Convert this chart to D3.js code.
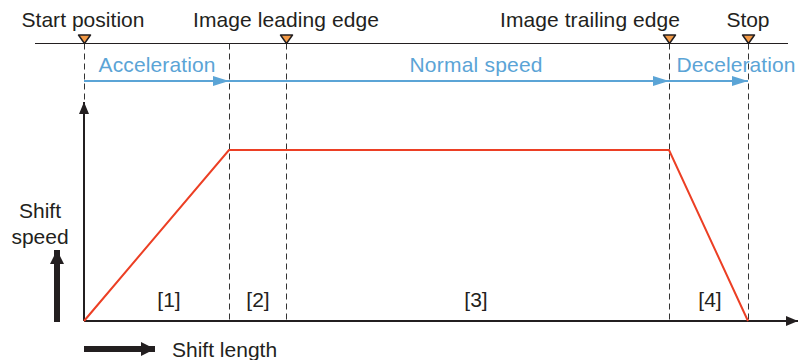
<!DOCTYPE html>
<html lang="en">
<head>
<meta charset="utf-8">
<title>Shift speed profile</title>
<script src="https://d3js.org/d3.v7.min.js"></script>
<style>
  body { margin: 0; background: #fff; }
  svg text { font-family: "Liberation Sans", Arial, sans-serif; }
</style>
</head>
<body>
<div id="chart"></div>
<script>
// positions along the shift length (arbitrary units)
var markers = ['Start position', 'Image leading edge', 'Image trailing edge', 'Stop'];
var markerPos = [0, 202, 585, 664];
var phaseBounds = [0, 145, 585, 664];          // accel end, decel start, stop
var phaseNames = ['Acceleration', 'Normal speed', 'Deceleration'];
var regionLabels = ['[1]', '[2]', '[3]', '[4]'];
var speedX = [0, 145, 585, 664];
var speedY = [0, 1, 1, 0];

var width = 798, height = 360;
var x = d3.scaleLinear().domain([0, 714]).range([84, 798]);
var y = d3.scaleLinear().domain([0, 1]).range([321, 150]);
var ink = '#231f20';

var svg = d3.select('#chart').append('svg')
  .attr('width', width).attr('height', height);

var defs = svg.append('defs');
defs.append('marker').attr('id', 'blueHead')
  .attr('viewBox', '0 0 16 10').attr('refX', 16).attr('refY', 5)
  .attr('markerWidth', 16).attr('markerHeight', 10)
  .attr('markerUnits', 'userSpaceOnUse').attr('orient', 'auto')
  .append('path').attr('d', 'M0,0L16,5L0,10Z').attr('fill', '#5ba4d6');
defs.append('marker').attr('id', 'axHead')
  .attr('viewBox', '0 0 12 10').attr('refX', 12).attr('refY', 5)
  .attr('markerWidth', 12).attr('markerHeight', 10)
  .attr('markerUnits', 'userSpaceOnUse').attr('orient', 'auto')
  .append('path').attr('d', 'M0,0L12,5L0,10Z').attr('fill', ink);
defs.append('marker').attr('id', 'bigHead')
  .attr('viewBox', '0 0 14 14').attr('refX', 14).attr('refY', 7)
  .attr('markerWidth', 14).attr('markerHeight', 14)
  .attr('markerUnits', 'userSpaceOnUse').attr('orient', 'auto')
  .append('path').attr('d', 'M0,0L14,7L0,14Z').attr('fill', ink);

// top reference line
var topY = 43.5;
svg.append('line').attr('x1', 35).attr('x2', 788)
  .attr('y1', topY).attr('y2', topY)
  .attr('stroke', ink).attr('stroke-width', 1);

// dashed guide lines
var guides = Array.from(new Set(markerPos.concat(phaseBounds)));
svg.selectAll('.guide').data(guides).enter().append('line')
  .attr('class', 'guide')
  .attr('x1', d => Math.round(x(d)) + 0.5).attr('x2', d => Math.round(x(d)) + 0.5)
  .attr('y1', topY).attr('y2', y(0))
  .attr('stroke', '#333').attr('stroke-width', 1)
  .attr('stroke-dasharray', '6,4');

// orange markers + labels
var labelX = [83, 286, 590, 748];
svg.selectAll('.tri').data(markerPos).enter().append('path')
  .attr('d', d => 'M' + (x(d) - 5.5) + ',35L' + (x(d) + 6.5) + ',35L' + (x(d) + 0.5) + ',' + topY + 'Z')
  .attr('fill', '#f49a45').attr('stroke', ink).attr('stroke-width', 1.5)
  .attr('stroke-linejoin', 'round');
svg.selectAll('.mlab').data(markers).enter().append('text')
  .attr('x', (d, i) => labelX[i]).attr('y', 27)
  .attr('text-anchor', 'middle').attr('font-size', 21).attr('fill', ink)
  .attr('textLength', (d, i) => [123, 186, 180, 43][i])
  .text(d => d);

// blue phase arrows
var blueY = 81;
for (var i = 0; i < phaseNames.length; i++) {
  svg.append('line')
    .attr('x1', x(phaseBounds[i])).attr('x2', x(phaseBounds[i + 1]))
    .attr('y1', blueY).attr('y2', blueY)
    .attr('stroke', '#5ba4d6').attr('stroke-width', 2)
    .attr('marker-end', 'url(#blueHead)');
}
var phaseTextX = [157, 476, 736];
svg.selectAll('.plab').data(phaseNames).enter().append('text')
  .attr('x', (d, i) => phaseTextX[i]).attr('y', 72)
  .attr('text-anchor', 'middle').attr('font-size', 21).attr('fill', '#5ba4d6')
  .attr('textLength', (d, i) => [117, 133, 119][i])
  .text(d => d);

// axes
svg.append('line').attr('x1', x(0)).attr('x2', x(0))
  .attr('y1', y(0)).attr('y2', 102)
  .attr('stroke', ink).attr('stroke-width', 2)
  .attr('marker-end', 'url(#axHead)');
svg.append('line').attr('x1', x(0)).attr('x2', 798)
  .attr('y1', y(0)).attr('y2', y(0))
  .attr('stroke', ink).attr('stroke-width', 2)
  .attr('marker-end', 'url(#axHead)');

// speed profile
var line = d3.line().x(d => x(d[0])).y(d => y(d[1]));
svg.append('path')
  .datum(speedX.map((v, i) => [v, speedY[i]]))
  .attr('d', line).attr('fill', 'none')
  .attr('stroke', '#ec3f24').attr('stroke-width', 2);

// region labels
var regionTextX = [169, 258, 476, 710];
svg.selectAll('.rlab').data(regionLabels).enter().append('text')
  .attr('x', (d, i) => regionTextX[i]).attr('y', 307)
  .attr('text-anchor', 'middle').attr('font-size', 21).attr('fill', ink)
  .text(d => d);

// axis titles with thick arrows
svg.append('text').attr('x', 40).attr('y', 218)
  .attr('text-anchor', 'middle').attr('font-size', 21).attr('fill', ink)
  .text('Shift');
svg.append('text').attr('x', 40).attr('y', 244)
  .attr('text-anchor', 'middle').attr('font-size', 21).attr('fill', ink)
  .text('speed');
svg.append('line').attr('x1', 57).attr('x2', 57)
  .attr('y1', 322).attr('y2', 250)
  .attr('stroke', ink).attr('stroke-width', 6)
  .attr('marker-end', 'url(#bigHead)');
svg.append('line').attr('x1', 84).attr('x2', 155)
  .attr('y1', 349).attr('y2', 349)
  .attr('stroke', ink).attr('stroke-width', 6)
  .attr('marker-end', 'url(#bigHead)');
svg.append('text').attr('x', 172).attr('y', 357)
  .attr('font-size', 21).attr('fill', ink)
  .text('Shift length');
</script>
</body>
</html>
